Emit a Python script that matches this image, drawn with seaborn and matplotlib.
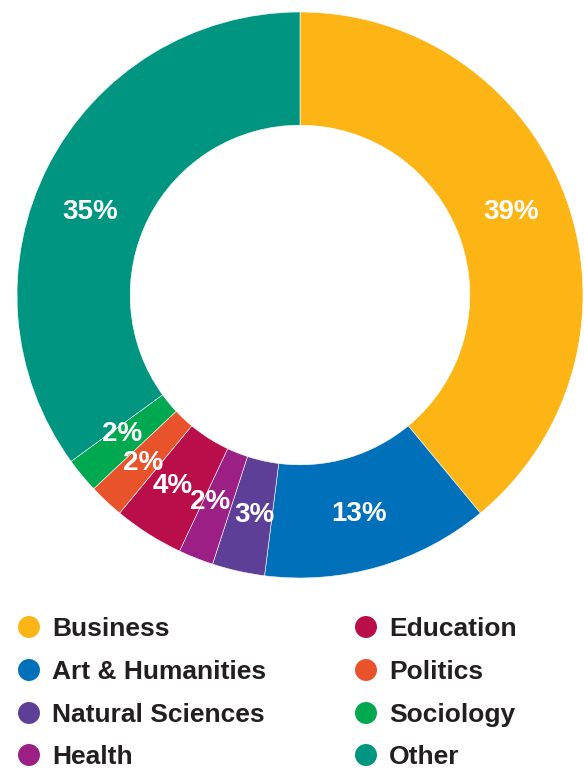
import matplotlib
matplotlib.use("Agg")
import matplotlib.pyplot as plt
import seaborn as sns

# data
categories = ["Business", "Art & Humanities", "Natural Sciences", "Health",
              "Education", "Politics", "Sociology", "Other"]
shares = [39, 13, 3, 2, 4, 2, 2, 35]
slice_colors = ["#FDB515", "#0070BA", "#5E3F97", "#9B1F85",
                "#B90E4A", "#E9532B", "#00A84F", "#009580"]

sns.set_theme(style="white")
plt.rcParams["font.family"] = ["Liberation Sans", "DejaVu Sans"]
palette = sns.color_palette(slice_colors)

W, H = 584, 769
fig = plt.figure(figsize=(W / 100, H / 100), dpi=100)

# donut axes, placed in pixel terms
cx, cy, r = 300, 295, 283
ax = fig.add_axes([(cx - r) / W, (H - cy - r) / H, 2 * r / W, 2 * r / H])
ring = 0.4
wedges, texts = ax.pie(
    shares, colors=palette, startangle=90, counterclock=False, radius=1,
    labels=[f"{v}%" for v in shares], labeldistance=1 - ring / 2,
    wedgeprops=dict(width=ring, edgecolor="white", linewidth=0.4),
    textprops=dict(color="white", fontsize=20, fontweight="bold",
                   ha="center", va="center"),
)

# small pixel nudges so the crowded labels sit like the original
nudge_px = [(-2, -6), (-4, 2), (4, -1), (-7, -4),
            (-6, 0), (-2, 3), (-3, -5), (-8, 20)]
for t, (dx, dy) in zip(texts, nudge_px):
    x, y = t.get_position()
    t.set_position((x + dx / r, y - dy / r))

ax.set_xlim(-1, 1)
ax.set_ylim(-1, 1)
ax.set_aspect("equal")
ax.axis("off")

# legend in two columns, drawn in a pixel-unit axes
lax = fig.add_axes([0, 0, 1, (H - 600) / H])
lax.set_xlim(0, W)
lax.set_ylim(H, 600)
lax.axis("off")
rows = [627, 670, 713, 755]
for i, (name, col) in enumerate(zip(categories, palette)):
    c, rr = divmod(i, 4)
    x0 = 29 if c == 0 else 366
    y0 = rows[rr]
    lax.scatter([x0], [y0], s=250, color=col, edgecolor="none")
    lax.text(x0 + 23, y0 + 2, name, fontsize=19, fontweight="bold",
             color="#231F20", ha="left", va="center")

fig.savefig("out.png", dpi=100)
